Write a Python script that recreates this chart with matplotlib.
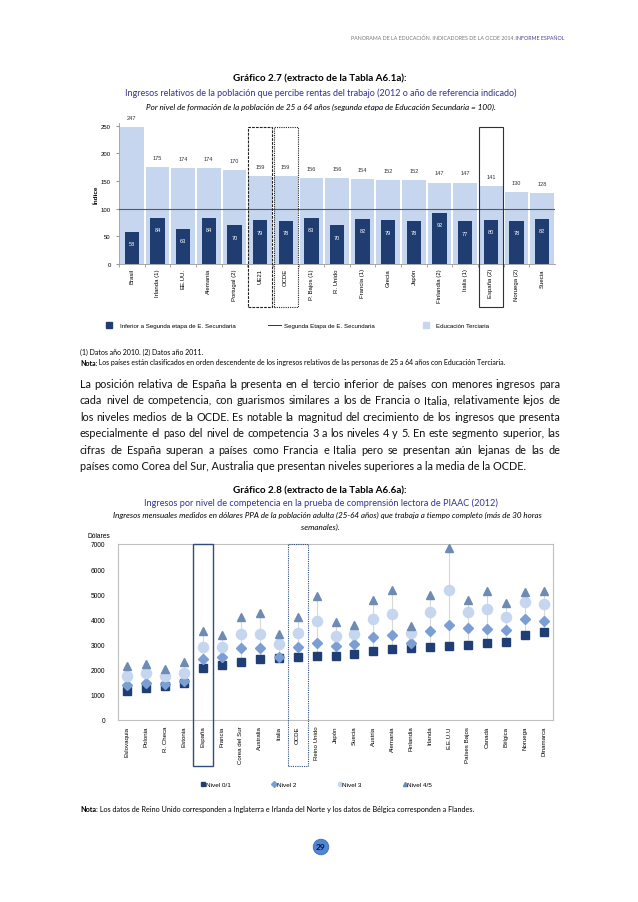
import matplotlib
matplotlib.use('Agg')
import matplotlib.pyplot as plt
from matplotlib.patches import Rectangle
from matplotlib.lines import Line2D
import matplotlib.transforms as mtransforms

# ---- datos grafico 2.7 ----
paises1 = ['Brasil', 'Irlanda (1)', 'EE.UU.', 'Alemania', 'Portugal (2)', 'UE21', 'OCDE',
           'P. Bajos (1)', 'R. Unido', 'Francia (1)', 'Grecia', 'Japón', 'Finlandia (2)',
           'Italia (1)', 'España (2)', 'Noruega (2)', 'Suecia']
inferior = [58, 84, 63, 84, 70, 79, 78, 83, 70, 82, 79, 78, 92, 77, 80, 78, 82]
terciaria = [247, 175, 174, 174, 170, 159, 159, 156, 156, 154, 152, 152, 147, 147, 141, 130, 128]
segunda = 100

# ---- datos grafico 2.8 ----
paises2 = ['Eslovaquia', 'Polonia', 'R. Checa', 'Estonia', 'España', 'Francia', 'Corea del Sur',
           'Australia', 'Italia', 'OCDE', 'Reino Unido', 'Japón', 'Suecia', 'Austria', 'Alemania',
           'Finlandia', 'Irlanda', 'E.E.U.U', 'Países Bajos', 'Canadá', 'Bélgica', 'Noruega',
           'Dinamarca']
nivel01 = [1150, 1290, 1340, 1490, 2080, 2170, 2320, 2420, 2470, 2500, 2540, 2540, 2630, 2760,
           2810, 2850, 2890, 2940, 2970, 3050, 3120, 3400, 3500]
nivel2 = [1400, 1460, 1430, 1570, 2430, 2500, 2880, 2860, 2500, 2900, 3080, 2930, 3010, 3290,
          3370, 3050, 3540, 3760, 3640, 3620, 3580, 4020, 3930]
nivel3 = [1750, 1850, 1750, 1880, 2900, 2920, 3430, 3430, 3010, 3480, 3950, 3350, 3430, 4020,
          4230, 3460, 4310, 5180, 4310, 4420, 4100, 4680, 4630]
nivel45 = [2150, 2210, 2020, 2310, 3550, 3370, 4090, 4260, 3420, 4100, 4940, 3880, 3760, 4760,
           5180, 3730, 4980, 6840, 4790, 5120, 4670, 5100, 5140]

W, H = 638, 903
fig = plt.figure(figsize=(W / 100, H / 100), dpi=100)
fig.patch.set_facecolor('white')


def fx(x):
    return x / W


def fy(y):
    return 1 - y / H


def rect(x0, y0, x1, y1):
    return [x0 / W, 1 - y1 / H, (x1 - x0) / W, (y1 - y0) / H]


CAL = ['Lato', 'DejaVu Sans']
ARI = ['Liberation Sans', 'DejaVu Sans']
AZUL = '#33338f'
OSCURO = '#1f3d70'
CLARO = '#c6d6ee'

# cabecera
cab = fig.text(fx(565), fy(38), 'PANORAMA DE LA EDUCACIÓN. INDICADORES DE LA OCDE 2014.',
               ha='right', va='center', fontsize=3.8, color='#777777', family=CAL)
t_inf = fig.text(fx(565), fy(38), ' INFORME ESPAÑOL', ha='right', va='center', fontsize=3.8,
                 color='#4b3f8f', family=CAL)
r = fig.canvas.get_renderer()
wi = t_inf.get_window_extent(r).width
cab.set_x(fx(565 - wi))

# ================= Grafico 2.7 =================
fig.text(fx(320), fy(79), 'Gráfico 2.7 (extracto de la Tabla A6.1a):', ha='center', va='center',
         fontsize=7.1, fontweight='bold', family=CAL)
fig.text(fx(321), fy(93), 'Ingresos relativos de la población que percibe rentas del trabajo '
         '(2012 o año de referencia indicado)', ha='center', va='center', fontsize=6.45,
         color=AZUL, family=CAL)
fig.text(fx(321), fy(107), 'Por nivel de formación de la población de 25 a 64 años (segunda etapa '
         'de Educación Secundaria = 100).', ha='center', va='center', fontsize=5.9,
         style='italic', family=CAL)

ax1 = fig.add_axes(rect(119, 124, 555, 265))
x1 = list(range(len(paises1)))
ax1.bar(x1, terciaria, width=0.92, color=CLARO, zorder=1)
ax1.bar(x1, inferior, width=0.56, color=OSCURO, zorder=2)
ax1.axhline(segunda, color='#5a5a5a', lw=0.8, zorder=3)
for i in x1:
    ax1.annotate(str(terciaria[i]), (i, terciaria[i]), xytext=(0, 7), textcoords='offset points',
                 ha='center', va='center', fontsize=4.1, color='#333333', family=ARI)
    ax1.annotate(str(inferior[i]), (i, inferior[i]), xytext=(0, -8.5), textcoords='offset points',
                 ha='center', va='center', fontsize=4.1, color='white', family=ARI, zorder=4)
ax1.set_xlim(-0.5, len(paises1) - 0.5)
ax1.set_ylim(0, 255)
ax1.set_yticks([0, 50, 100, 150, 200, 250])
ax1.set_xticks(x1)
ax1.set_xticklabels(paises1, rotation=90, fontsize=4.3, family=ARI)
ax1.set_xticks([i + 0.5 for i in x1[:-1]] + [-0.5], minor=True)
ax1.tick_params(axis='x', which='major', length=0, pad=3)
ax1.tick_params(axis='x', which='minor', length=2, color='#999999')
ax1.tick_params(axis='y', length=2, color='#999999', labelsize=4.3, pad=4)
for lab in ax1.get_yticklabels():
    lab.set_family(ARI)
for s in ['top', 'right']:
    ax1.spines[s].set_visible(False)
ax1.spines['left'].set_color('#999999')
ax1.spines['bottom'].set_color('#999999')
ax1.spines['left'].set_linewidth(0.6)
ax1.spines['bottom'].set_linewidth(0.6)
fig.text(fx(96), fy(195), 'Índice', rotation=90, ha='center', va='center', fontsize=4.6,
         fontweight='bold', family=ARI)

# recuadros UE21, OCDE, España
tr1 = mtransforms.blended_transform_factory(ax1.transData, ax1.transAxes)
for nombre, ls, col in [('UE21', (0, (2.5, 1)), '#222222'), ('OCDE', (0, (1, 1)), '#222222'),
                        ('España (2)', '-', '#1f3550')]:
    i = paises1.index(nombre)
    ax1.add_patch(Rectangle((i - 0.47, -0.305), 0.94, 1.275, transform=tr1, fill=False,
                            ec=col, lw=0.8, ls=ls, clip_on=False, zorder=5))

# leyenda grafico 2.7
ley1 = [(Line2D([], [], marker='s', ls='none', color=OSCURO, markersize=4),
         'Inferior a Segunda etapa de E. Secundaria', 103),
        (Line2D([], [], color='#333333', lw=0.7), 'Segunda Etapa de E. Secundaria', 268),
        (Line2D([], [], marker='s', ls='none', color=CLARO, markersize=4), 'Educación Terciaria', 420)]
for h, lab, xpos in ley1:
    fig.legend([h], [lab], loc='center left', bbox_to_anchor=(fx(xpos), fy(326)),
               frameon=False, handlelength=2.1, handletextpad=0.6,
               borderpad=0, borderaxespad=0, prop={'family': ARI, 'size': 4.4})

fig.text(fx(80), fy(352), '(1) Datos año 2010. (2) Datos año 2011.', ha='left', va='center',
         fontsize=5.0, family=CAL)
nt = fig.text(fx(80), fy(363), 'Nota:', ha='left', va='center', fontsize=5.0, fontweight='bold',
              family=CAL)
plt.annotate(' Los países están clasificados en orden descendente de los ingresos relativos de las '
             'personas de 25 a 64 años con Educación Terciaria.', xy=(1, 0.5), xycoords=nt,
             ha='left', va='center', fontsize=5.0, family=CAL)

# ---- parrafo justificado ----
parrafo = [
    'La posición relativa de España la presenta en el tercio inferior de países con menores ingresos para',
    'cada nivel de competencia, con guarismos similares a los de Francia o Italia, relativamente lejos de',
    'los niveles medios de la OCDE. Es notable la magnitud del crecimiento de los ingresos que presenta',
    'especialmente el paso del nivel de competencia 3 a los niveles 4 y 5. En este segmento superior, las',
    'cifras de España superan a países como Francia e Italia pero se presentan aún lejanas de las de',
    'países como Corea del Sur, Australia que presentan niveles superiores a la media de la OCDE.',
]


def justificar(lineas, x0, x1, y0, dy, **kw):
    rr = fig.canvas.get_renderer()
    for k, linea in enumerate(lineas):
        y = fy(y0 + k * dy)
        if k == len(lineas) - 1:
            fig.text(fx(x0), y, linea, ha='left', va='center', **kw)
            continue
        palabras = linea.split()
        ts = [fig.text(0, y, p, ha='left', va='center', **kw) for p in palabras]
        ws = [t.get_window_extent(rr).width for t in ts]
        hueco = (x1 - x0 - sum(ws)) / (len(palabras) - 1)
        xx = x0
        for t, w in zip(ts, ws):
            t.set_x(fx(xx))
            xx += w + hueco


justificar(parrafo, 80, 560, 384, 16.6, fontsize=7.8, family=CAL, color='#111111')

# ================= Grafico 2.8 =================
fig.text(fx(320), fy(491), 'Gráfico 2.8 (extracto de la Tabla A6.6a):', ha='center', va='center',
         fontsize=7.1, fontweight='bold', family=CAL)
fig.text(fx(321), fy(503), 'Ingresos por nivel de competencia en la prueba de comprensión lectora '
         'de PIAAC (2012)', ha='center', va='center', fontsize=6.6, color=AZUL, family=CAL)
fig.text(fx(327), fy(515), 'Ingresos mensuales medidos en dólares PPA de la población adulta '
         '(25-64 años) que trabaja a tiempo completo (más de 30 horas', ha='center', va='center',
         fontsize=5.8, style='italic', family=CAL)
fig.text(fx(320), fy(527), 'semanales).', ha='center', va='center', fontsize=5.8, style='italic',
         family=CAL)
fig.text(fx(87), fy(537), 'Dólares', ha='left', va='center', fontsize=4.8, family=ARI)

ax2 = fig.add_axes(rect(118, 545, 553, 721))
x2 = list(range(len(paises2)))
bajo = [min(a, b, c, d) for a, b, c, d in zip(nivel01, nivel2, nivel3, nivel45)]
alto = [max(a, b, c, d) for a, b, c, d in zip(nivel01, nivel2, nivel3, nivel45)]
ax2.vlines(x2, bajo, alto, color='#d9d9d9', lw=0.8, zorder=1)
ax2.plot(x2, nivel01, ls='none', marker='s', markersize=6.3, color='#1f3f74', label='Nivel 0/1', zorder=2)
ax2.plot(x2, nivel2, ls='none', marker='D', markersize=5.0, color='#7b9fd4', label='Nivel 2', zorder=3)
ax2.plot(x2, nivel3, ls='none', marker='o', markersize=7.3, color='#c6d6ee', label='Nivel 3', zorder=4)
ax2.plot(x2, nivel45, ls='none', marker='^', markersize=6.0, color='#6d8bb3', label='Nivel 4/5', zorder=5)
ax2.set_xlim(-0.5, len(paises2) - 0.5)
ax2.set_ylim(0, 7000)
ax2.set_yticks(range(0, 7001, 1000))
ax2.set_xticks(x2)
ax2.set_xticklabels(paises2, rotation=90, fontsize=4.4, family=ARI)
ax2.tick_params(axis='x', length=0, pad=4)
ax2.tick_params(axis='y', length=0, labelsize=4.8, pad=9)
for lab in ax2.get_yticklabels():
    lab.set_family(ARI)
for s in ax2.spines.values():
    s.set_color('#bfbfbf')
    s.set_linewidth(0.8)

tr2 = mtransforms.blended_transform_factory(ax2.transData, ax2.transAxes)
for nombre, ls, col in [('España', '-', '#2f4f78'), ('OCDE', (0, (1, 1)), '#2f4f78')]:
    i = paises2.index(nombre)
    ax2.add_patch(Rectangle((i - 0.52, -0.26), 1.04, 1.26, transform=tr2, fill=False,
                            ec=col, lw=1.0 if ls == '-' else 0.8, ls=ls, clip_on=False, zorder=6))

hs, ls2 = ax2.get_legend_handles_labels()
hs = [Line2D([], [], ls='none', marker=h.get_marker(), color=h.get_color(), markersize=3)
      for h in hs]
fig.legend(hs, ls2, loc='center', bbox_to_anchor=(fx(317), fy(785)), ncol=4, frameon=False,
           handlelength=0.5, handletextpad=0.1, columnspacing=6.6, borderpad=0,
           prop={'family': ARI, 'size': 4.6})

nt2 = fig.text(fx(80), fy(810), 'Nota:', ha='left', va='center', fontsize=5.2, fontweight='bold',
               family=CAL)
plt.annotate(' Los datos de Reino Unido corresponden a Inglaterra e Irlanda del Norte y los datos '
             'de Bélgica corresponden a Flandes.', xy=(1, 0.5), xycoords=nt2, ha='left',
             va='center', fontsize=5.2, family=CAL)

# numero de pagina
fig.text(fx(321), fy(848), '29', ha='center', va='center', fontsize=6, fontweight='bold',
         family=CAL, color='#111133',
         bbox=dict(boxstyle='circle,pad=0.35', fc='#4f86d6', ec='#3f6fb8', lw=0.6))

fig.savefig('out.png', dpi=100, facecolor='white')
